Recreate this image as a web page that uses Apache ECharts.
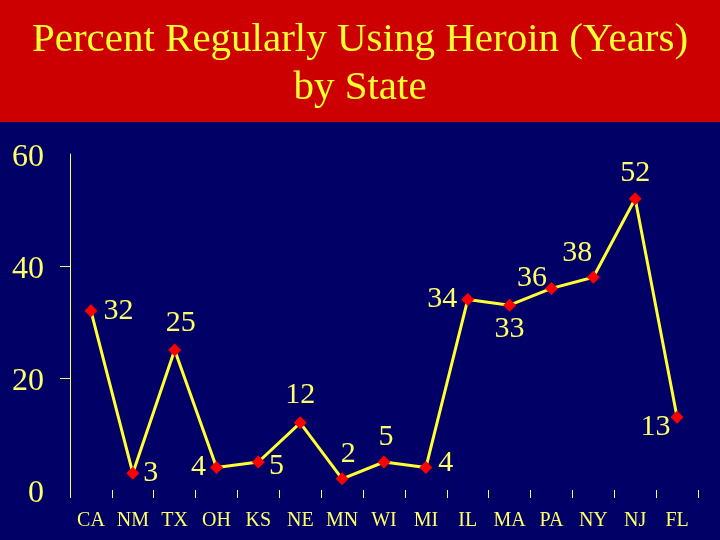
<!DOCTYPE html>
<html>
<head>
<meta charset="utf-8">
<script src="https://cdn.jsdelivr.net/npm/echarts@6/dist/echarts.min.js"></script>
<style>html,body{margin:0;padding:0;background:#000066;}#c{width:720px;height:540px;}</style>
</head>
<body>
<div id="c"></div>
<script>
var titleLines = ['Percent Regularly Using Heroin (Years)', 'by State'];
var states = ['CA','NM','TX','OH','KS','NE','MN','WI','MI','IL','MA','PA','NY','NJ','FL'];
var percents = [32, 3, 25, 4, 5, 12, 2, 5, 4, 34, 33, 36, 38, 52, 13];
var yTicks = [0, 20, 40, 60];

var labelStyle = {
  CA: {position: 'right', distance: 6},
  NM: {position: 'right', distance: 4},
  TX: {position: 'top', offset: [6, 0]},
  OH: {position: 'left', distance: 4},
  KS: {position: 'right', distance: 4, offset: [0, 4]},
  NE: {position: 'top', distance: 6},
  MN: {position: 'top', offset: [6, 2]},
  WI: {position: 'top', offset: [2, 2]},
  MI: {position: 'right', distance: 6, offset: [0, -4]},
  IL: {position: 'left', distance: 4},
  MA: {position: 'bottom', distance: 2},
  PA: {position: 'left', distance: 2, offset: [4, -10]},
  NY: {position: 'top', offset: [-16, 2]},
  NJ: {position: 'top', distance: 4},
  FL: {position: 'left', distance: 2, offset: [2, 10]}
};

var seriesData = percents.map(function (v, i) {
  return {value: v, label: labelStyle[states[i]]};
});

var titleFont = {
  color: '#ffff33', fontFamily: 'Liberation Serif', fontWeight: 'normal', fontSize: 41
};

var chart = echarts.init(document.getElementById('c'));
chart.setOption({
  backgroundColor: '#000066',
  animation: false,
  graphic: [{
    type: 'rect', left: 0, top: 0, z: -1,
    shape: {width: 720, height: 122},
    style: {fill: '#cc0000'}
  }],
  title: [
    {text: titleLines[0], left: 'center', top: 20, padding: 0, textStyle: titleFont},
    {text: titleLines[1], left: 'center', top: 68, padding: 0, textStyle: titleFont}
  ],
  grid: {left: 70, right: 22, top: 154, bottom: 50},
  xAxis: {
    type: 'category', data: states, boundaryGap: true, offset: 7,
    axisLine: {show: false},
    axisTick: {show: true, interval: 0, length: 8, lineStyle: {color: '#ffff66', width: 1}},
    axisLabel: {interval: 0, color: '#ffff66', fontFamily: 'Liberation Serif', fontSize: 20, margin: 14}
  },
  yAxis: {
    type: 'value', min: 0, max: 60, interval: 20,
    axisLine: {show: true, lineStyle: {color: '#ffff66', width: 1}},
    axisTick: {show: true, customValues: [20, 40], length: 10, lineStyle: {color: '#ffff66', width: 1}},
    axisLabel: {color: '#ffff66', fontFamily: 'Liberation Serif', fontSize: 32, margin: 26,
      verticalAlign: 'top', lineHeight: 8, customValues: yTicks},
    splitLine: {show: true, showMinLine: false, showMaxLine: false, lineStyle: {color: '#ffff66', width: 1}}
  },
  series: [{
    type: 'line', data: seriesData,
    symbol: 'diamond', symbolSize: 13,
    itemStyle: {color: '#ff0000'},
    lineStyle: {color: '#ffff33', width: 3},
    label: {
      show: true, color: '#ffff66', fontFamily: 'Liberation Serif', fontSize: 30
    }
  }]
});
</script>
</body>
</html>
